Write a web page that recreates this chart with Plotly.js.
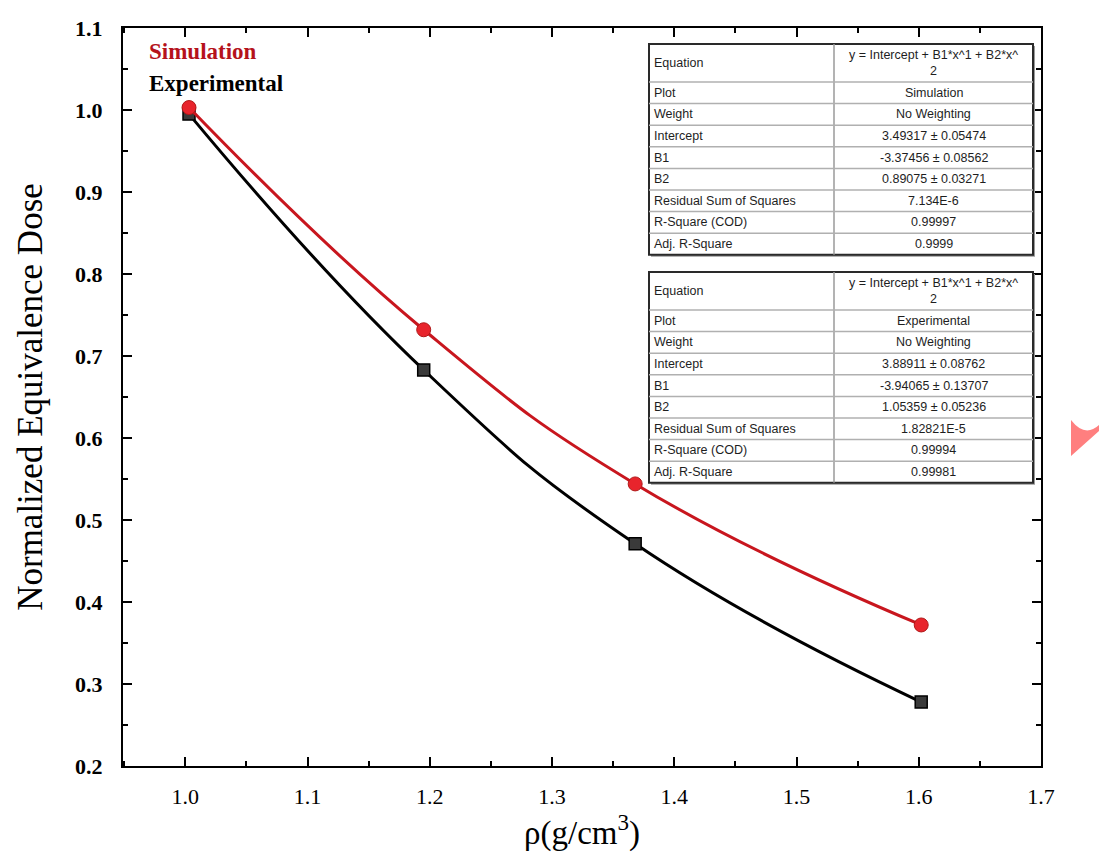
<!DOCTYPE html>
<html><head><meta charset="utf-8">
<script src="https://cdn.plot.ly/plotly-3.0.1.min.js"></script>
<style>html,body{margin:0;padding:0;background:#fff}#chart{width:1099px;height:854px}</style>
</head><body><div id="chart"></div>
<script>
// Data
var density = [1.003, 1.195, 1.368, 1.602];
var simulation = [1.003, 0.732, 0.544, 0.372];
var experimental = [0.995, 0.683, 0.471, 0.278];
var seriesNames = ['Simulation', 'Experimental'];

var tableLabels = ['Equation', 'Plot', 'Weight', 'Intercept', 'B1', 'B2', 'Residual Sum of Squares', 'R-Square (COD)', 'Adj. R-Square'];
var equationText = 'y = Intercept + B1*x^1 + B2*x^<br>2';
var simTableValues = [equationText, 'Simulation', 'No Weighting', '3.49317 ± 0.05474', '-3.37456 ± 0.08562', '0.89075 ± 0.03271', '7.134E-6', '0.99997', '0.9999'];
var expTableValues = [equationText, 'Experimental', 'No Weighting', '3.88911 ± 0.08762', '-3.94065 ± 0.13707', '1.05359 ± 0.05236', '1.82821E-5', '0.99994', '0.99981'];

// Layout geometry (pixels)
var W = 1099, H = 854;
var L = 123, R = 1041, T = 28, B = 766;
function px(x) { return (x - L) / (R - L); }
function py(y) { return (B - y) / (B - T); }

var traces = [
  {x: density, y: experimental, name: seriesNames[1], mode: 'lines+markers',
   line: {color: '#000000', width: 3, shape: 'spline', smoothing: 1.3},
   marker: {symbol: 'square', size: 12, color: '#3a3a3a', line: {color: '#000', width: 1.5}}},
  {x: density, y: simulation, name: seriesNames[0], mode: 'lines+markers',
   line: {color: '#c8161e', width: 3, shape: 'spline', smoothing: 1.3},
   marker: {symbol: 'circle', size: 14, color: '#e8242c', line: {color: '#b01818', width: 1}}}
];

var shapes = [];
var annotations = [];
var tableFont = {family: 'Liberation Sans, Arial, sans-serif', size: 12.5, color: '#1e1e1e'};

function addTable(top, values) {
  var left = 649, right = 1033, mid = 834;
  var eqBottom = top + 38;
  var rowH = 21.6;
  var bottom = eqBottom + rowH * 8;
  shapes.push({type: 'rect', xref: 'paper', yref: 'paper', x0: px(left + 2), x1: px(right + 2), y0: py(bottom + 2), y1: py(top + 2),
    fillcolor: '#9a9a9a', line: {width: 0}, layer: 'above'});
  shapes.push({type: 'rect', xref: 'paper', yref: 'paper', x0: px(left), x1: px(right), y0: py(bottom), y1: py(top),
    fillcolor: '#ffffff', line: {color: '#2a2a2a', width: 2}, layer: 'above'});
  shapes.push({type: 'line', xref: 'paper', yref: 'paper', x0: px(mid), x1: px(mid), y0: py(bottom), y1: py(top),
    line: {color: '#9a9a9a', width: 1.5}, layer: 'above'});
  for (var i = 0; i < 8; i++) {
    var yy = eqBottom + rowH * i;
    shapes.push({type: 'line', xref: 'paper', yref: 'paper', x0: px(left), x1: px(right), y0: py(yy), y1: py(yy),
      line: {color: '#b0b0b0', width: 1.5}, layer: 'above'});
  }
  for (var r = 0; r < tableLabels.length; r++) {
    var cy = r === 0 ? (top + eqBottom) / 2 : eqBottom + rowH * (r - 1) + rowH / 2;
    annotations.push({xref: 'paper', yref: 'paper', x: px(left + 3), y: py(cy), xanchor: 'left', yanchor: 'middle',
      text: tableLabels[r], showarrow: false, font: tableFont});
    annotations.push({xref: 'paper', yref: 'paper', x: px((mid + right) / 2), y: py(cy), xanchor: 'center', yanchor: 'middle',
      text: values[r], showarrow: false, font: tableFont});
  }
}
addTable(44, simTableValues);
addTable(272, expTableValues);

// legend-like labels
annotations.push({xref: 'paper', yref: 'paper', x: px(147), y: py(52), xanchor: 'left', yanchor: 'middle', showarrow: false,
  text: '<b>Simulation</b>', font: {family: 'Liberation Serif, Times New Roman, serif', size: 23, color: '#b5121b'}});
annotations.push({xref: 'paper', yref: 'paper', x: px(147), y: py(84), xanchor: 'left', yanchor: 'middle', showarrow: false,
  text: '<b>Experimental</b>', font: {family: 'Liberation Serif, Times New Roman, serif', size: 23, color: '#000'}});

// pink artifact at right edge
shapes.push({type: 'path', xref: 'paper', yref: 'paper', layer: 'above',
  path: 'M ' + px(1071) + ' ' + py(420) + ' Q ' + px(1085) + ' ' + py(438) + ' ' + px(1099) + ' ' + py(425) +
        ' L ' + px(1099) + ' ' + py(431) + ' L ' + px(1071) + ' ' + py(456) + ' Z',
  fillcolor: '#ff7f7f', line: {width: 0}});

var layout = {
  width: W, height: H,
  margin: {l: L, r: W - R, t: T, b: H - B, pad: 0},
  paper_bgcolor: '#fff', plot_bgcolor: '#fff',
  showlegend: false,
  xaxis: {range: [0.949, 1.7], tickvals: [1.0, 1.1, 1.2, 1.3, 1.4, 1.5, 1.6, 1.7],
    ticktext: ['1.0', '1.1', '1.2', '1.3', '1.4', '1.5', '1.6', '1.7'],
    ticks: 'inside', ticklen: 9, tickwidth: 2, tickcolor: '#000',
    minor: {dtick: 0.05, tick0: 1.0, ticks: 'inside', ticklen: 5, tickwidth: 2, tickcolor: '#000', showgrid: false},
    showline: true, linecolor: '#000', linewidth: 2, mirror: 'allticks', showgrid: false, zeroline: false,
    ticklabelstandoff: 10,
    tickfont: {family: 'Liberation Serif, Times New Roman, serif', size: 22, color: '#000'},
    title: {text: 'ρ(g/cm<sup>3</sup>)', standoff: 10, font: {family: 'Liberation Serif, Times New Roman, serif', size: 33, color: '#000'}}},
  yaxis: {range: [0.2, 1.1], dtick: 0.1, tick0: 0.2, tickformat: '.1f',
    ticks: 'inside', ticklen: 9, tickwidth: 2, tickcolor: '#000',
    minor: {dtick: 0.05, tick0: 0.2, ticks: 'inside', ticklen: 5, tickwidth: 2, tickcolor: '#000', showgrid: false},
    showline: true, linecolor: '#000', linewidth: 2, mirror: 'allticks', showgrid: false, zeroline: false,
    ticklabelstandoff: 14,
    tickfont: {family: 'Liberation Serif, Times New Roman, serif', size: 22, color: '#000', weight: 'bold'},
    title: {text: 'Normalized Equivalence Dose', standoff: 22, font: {family: 'Liberation Serif, Times New Roman, serif', size: 35, color: '#000'}}},
  shapes: shapes,
  annotations: annotations
};

Plotly.newPlot('chart', traces, layout, {displayModeBar: false, staticPlot: true});
</script></body></html>
